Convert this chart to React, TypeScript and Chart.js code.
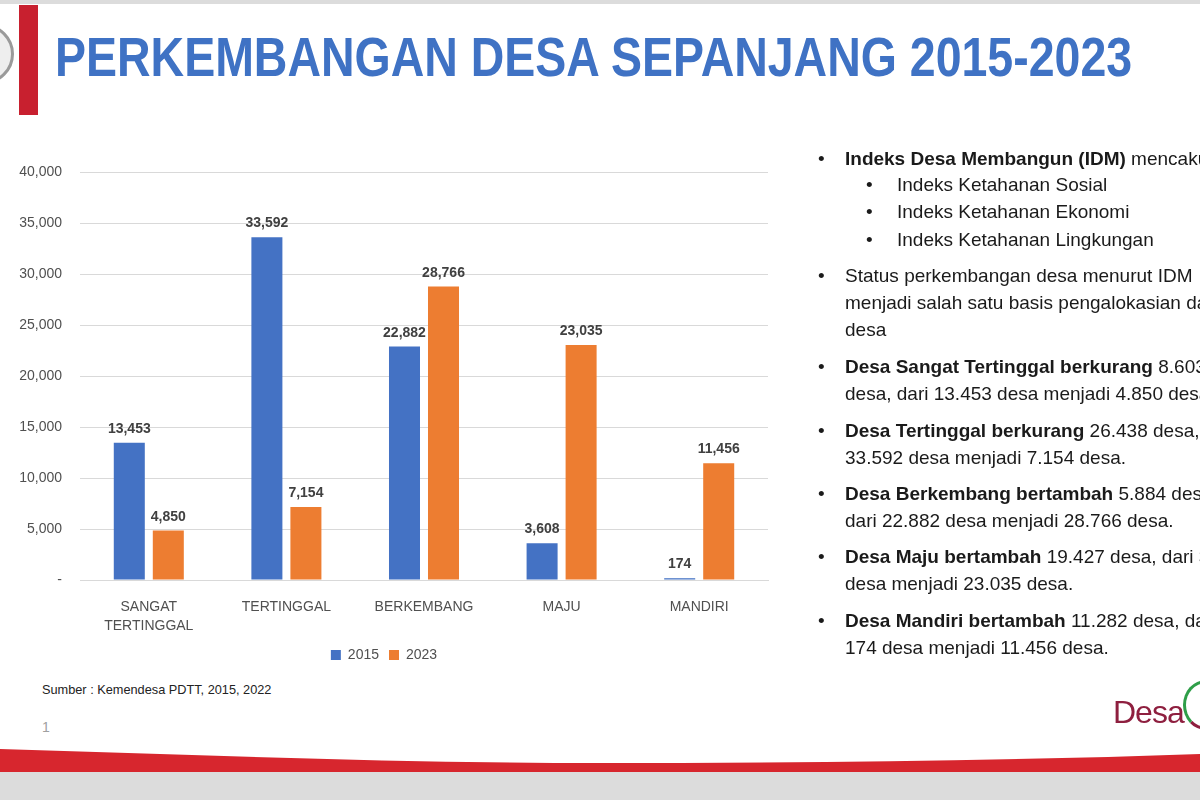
import React, { useEffect, useRef } from "react";
import { Chart, registerables } from "chart.js";

Chart.register(...registerables);

const categories: (string | string[])[] = [["SANGAT", "TERTINGGAL"], "TERTINGGAL", "BERKEMBANG", "MAJU", "MANDIRI"];
const seriesNames = ["2015", "2023"];
const values2015 = [13453, 33592, 22882, 3608, 174];
const values2023 = [4850, 7154, 28766, 23035, 11456];
const yMax = 40000;
const yStep = 5000;

const BLUE = "#4472C4";
const ORANGE = "#ED7D31";
const FONT = '"Liberation Sans", Arial, sans-serif';

const valueLabels = {
  id: "valueLabels",
  afterDatasetsDraw(chart: any) {
    const ctx = chart.ctx;
    ctx.save();
    ctx.font = `bold 14px ${FONT}`;
    ctx.fillStyle = "#404040";
    ctx.textAlign = "center";
    ctx.textBaseline = "alphabetic";
    chart.data.datasets.forEach((ds: any, i: number) => {
      chart.getDatasetMeta(i).data.forEach((bar: any, j: number) => {
        ctx.fillText(Number(ds.data[j]).toLocaleString("en-US"), bar.x, bar.y - 10);
      });
    });
    ctx.restore();
  },
};

function BarChart() {
  const ref = useRef<HTMLCanvasElement>(null);
  useEffect(() => {
    if (!ref.current) return;
    const chart = new Chart(ref.current, {
      type: "bar",
      data: {
        labels: categories,
        datasets: [
          { label: seriesNames[0], data: values2015, backgroundColor: BLUE, borderWidth: 0 },
          { label: seriesNames[1], data: values2023, backgroundColor: ORANGE, borderWidth: 0 },
        ],
      },
      options: {
        animation: false,
        responsive: true,
        maintainAspectRatio: false,
        layout: { padding: { top: 32, right: 22, bottom: 8, left: 0 } },
        datasets: { bar: { categoryPercentage: 0.567, barPercentage: 0.795 } } as any,
        scales: {
          x: {
            grid: { display: false },
            border: { display: true, color: "#d9d9d9" },
            ticks: { color: "#505050", font: { family: FONT, size: 14, lineHeight: 1.4 }, padding: 9, maxRotation: 0, autoSkip: false },
            afterFit: (s: any) => { s.height = 58; },
          },
          y: {
            min: 0,
            max: yMax,
            grid: { color: "#d9d9d9", drawTicks: false },
            border: { display: false },
            ticks: {
              stepSize: yStep,
              color: "#505050",
              font: { family: FONT, size: 14 },
              padding: 18,
              callback: (v: any) => (Number(v) === 0 ? "-" : Number(v).toLocaleString("en-US")),
            },
            afterFit: (s: any) => { s.width = 80; },
          },
        },
        plugins: {
          legend: {
            position: "bottom",
            labels: { boxWidth: 10, boxHeight: 10, color: "#505050", font: { family: FONT, size: 14 }, padding: 10 },
          },
          tooltip: { enabled: false },
        },
      },
      plugins: [valueLabels],
    });
    return () => chart.destroy();
  }, []);
  return <canvas ref={ref} />;
}

const line = (top: number, left: number, content: React.ReactNode, bullet: number) => (
  <div style={{ position: "absolute", top, left: 0, width: 1200, height: 27, whiteSpace: "nowrap" }}>
    {bullet > 0 && <span style={{ position: "absolute", left: bullet, top: 0 }}>•</span>}
    <span style={{ position: "absolute", left, top: 0 }}>{content}</span>
  </div>
);

export default function App() {
  return (
    <div style={{ position: "absolute", left: 0, top: 0, width: 1200, height: 800, overflow: "hidden", background: "#fff", fontFamily: FONT }}>
      <div style={{ position: "absolute", left: 0, top: 0, width: 1200, height: 4, background: "#dcdcdc" }} />
      <div style={{ position: "absolute", left: -46, top: 24, width: 54, height: 54, borderRadius: "50%", border: "3px solid #9a9a9a", background: "#eee" }} />
      <div style={{ position: "absolute", left: 19, top: 5, width: 19, height: 110, background: "#C8202F" }} />
      <div style={{ position: "absolute", left: 55, top: 22, fontSize: 56, fontWeight: "bold", color: "#3F72C4", whiteSpace: "nowrap", transform: "scaleX(0.83)", transformOrigin: "left top", lineHeight: "70px" }}>
        PERKEMBANGAN DESA SEPANJANG 2015-2023
      </div>

      <div style={{ position: "absolute", left: 0, top: 140, width: 790, height: 540 }}>
        <BarChart />
      </div>

      <div style={{ position: "absolute", left: 42, top: 682, fontSize: 13, color: "#222", transform: "scaleX(0.98)", transformOrigin: "left top", whiteSpace: "nowrap" }}>
        Sumber : Kemendesa PDTT, 2015, 2022
      </div>
      <div style={{ position: "absolute", left: 42, top: 719, fontSize: 14, color: "#a0a0a0" }}>1</div>

      <div style={{ position: "absolute", left: 0, top: 0, width: 1200, height: 800, fontSize: 19, color: "#1a1a1a", lineHeight: "27px" }}>
        {line(145, 845, <><b>Indeks Desa Membangun (IDM)</b> mencakup:</>, 818)}
        {line(171, 897, "Indeks Ketahanan Sosial", 866)}
        {line(198, 897, "Indeks Ketahanan Ekonomi", 866)}
        {line(226, 897, "Indeks Ketahanan Lingkungan", 866)}
        {line(262, 845, "Status perkembangan desa menurut IDM", 818)}
        {line(289, 845, "menjadi salah satu basis pengalokasian dana", 0)}
        {line(316, 845, "desa", 0)}
        {line(353, 845, <><b>Desa Sangat Tertinggal berkurang</b> 8.603</>, 818)}
        {line(380, 845, "desa, dari 13.453 desa menjadi 4.850 desa.", 0)}
        {line(417, 845, <><b>Desa Tertinggal berkurang</b> 26.438 desa, dari</>, 818)}
        {line(444, 845, "33.592 desa menjadi 7.154 desa.", 0)}
        {line(480, 845, <><b>Desa Berkembang bertambah</b> 5.884 desa,</>, 818)}
        {line(507, 845, "dari 22.882 desa menjadi 28.766 desa.", 0)}
        {line(543, 845, <><b>Desa Maju bertambah</b> 19.427 desa, dari 3.608</>, 818)}
        {line(570, 845, "desa menjadi 23.035 desa.", 0)}
        {line(607, 845, <><b>Desa Mandiri bertambah</b> 11.282 desa, dari</>, 818)}
        {line(634, 845, "174 desa menjadi 11.456 desa.", 0)}
      </div>

      <div style={{ position: "absolute", left: 1113, top: 694, fontSize: 32, color: "#8E1F3F", letterSpacing: -1 }}>Desa</div>
      <div style={{ position: "absolute", left: 1183, top: 680, width: 40, height: 44, borderRadius: "50%", borderLeft: "3px solid #2E9E48", borderTop: "3px solid #2E9E48", borderRight: "3px solid transparent", borderBottom: "3px solid #8E1F3F" }} />

      <svg style={{ position: "absolute", left: 0, top: 740 }} width={1200} height={60}>
        <path d="M0 9 C 200 15, 400 23, 600 23 C 800 23, 1000 21, 1200 14 L 1200 32 L 0 32 Z" fill="#D7262E" />
        <rect x={0} y={32} width={1200} height={28} fill="#dcdcdc" />
      </svg>
    </div>
  );
}
